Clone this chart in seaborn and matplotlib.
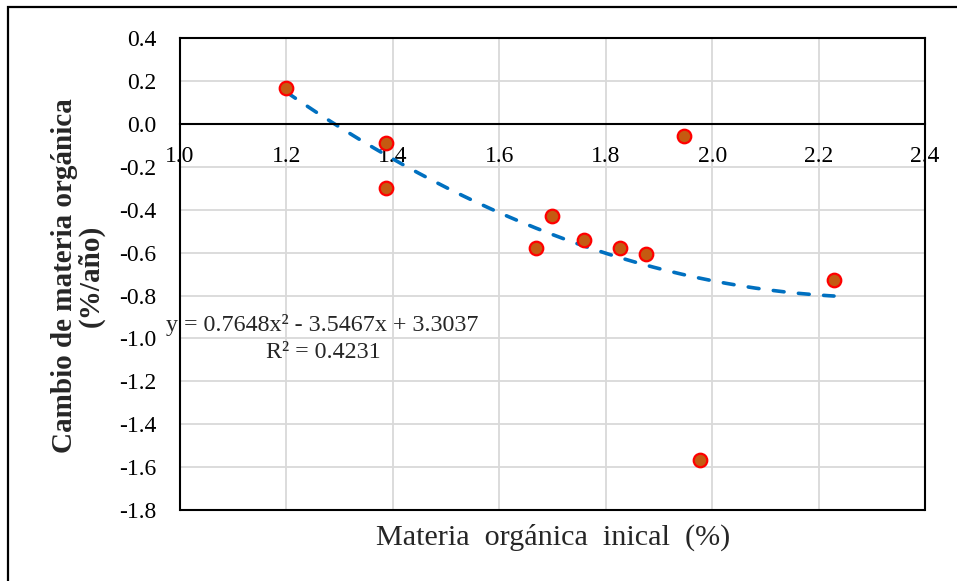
import numpy as np
import pandas as pd
import matplotlib
matplotlib.use("Agg")
import matplotlib.pyplot as plt
import seaborn as sns
from matplotlib.patches import Rectangle

# Initial organic matter (%) and its yearly change (%/año)
mo_inicial = [1.200, 1.387, 1.387, 1.669, 1.699, 1.759, 1.827, 1.875, 1.947, 1.977, 2.229]
cambio_mo = [0.170, -0.086, -0.300, -0.577, -0.429, -0.540, -0.577, -0.605, -0.058, -1.569, -0.725]

# Second-order polynomial trend (highest power first) and its R²
coef_tendencia = [0.7648, -3.5467, 3.3037]
r_cuadrado = 0.4231

x_ticks = [1.0, 1.2, 1.4, 1.6, 1.8, 2.0, 2.2, 2.4]
y_ticks = [0.4, 0.2, 0.0, -0.2, -0.4, -0.6, -0.8, -1.0, -1.2, -1.4, -1.6, -1.8]

sns.set_style("white")
plt.rcParams["font.family"] = ["Liberation Serif", "DejaVu Serif"]
plt.rcParams["axes.unicode_minus"] = False

W, H = 957, 581
fig = plt.figure(figsize=(W / 100, H / 100), dpi=100)
left, right, top, bottom = 180, 925, 38.3, 510
ax = fig.add_axes([left / W, 1 - bottom / H, (right - left) / W, (bottom - top) / H])

df = pd.DataFrame({"mo": mo_inicial, "cambio": cambio_mo})

# Trend line over the observed range
xs = np.linspace(min(mo_inicial), max(mo_inicial), 300)
ys = np.polyval(coef_tendencia, xs)
sns.lineplot(x=xs, y=ys, ax=ax, color="#0070C0", linewidth=2.6, sort=False,
             linestyle=(0, (3.0, 4.0)), dash_capstyle="round", zorder=2)

sns.scatterplot(data=df, x="mo", y="cambio", ax=ax, s=95, color="#C55A11",
                edgecolor="#FF0000", linewidth=1.6, zorder=3)

ax.set_xlim(x_ticks[0], x_ticks[-1])
ax.set_ylim(min(y_ticks), max(y_ticks))
ax.set_xticks(x_ticks, [f"{v:.1f}" for v in x_ticks])
ax.set_yticks(y_ticks, [f"{v:.1f}" for v in y_ticks])
ax.set_xlabel("")
ax.set_ylabel("")

ax.grid(True, color="#D9D9D9", linewidth=1.3)
ax.set_axisbelow(True)

# The x axis crosses at zero; frame the plot area separately
ax.spines["bottom"].set_position(("data", 0))
for sp in ax.spines.values():
    sp.set_color("black")
    sp.set_linewidth(1.5)
ax.plot([0, 1], [0, 0], transform=ax.transAxes, color="black", linewidth=1.5,
        clip_on=False, zorder=4)

ax.tick_params(axis="x", length=0, pad=16, labelsize=17, colors="black")
ax.tick_params(axis="y", length=0, pad=17, labelsize=17, colors="black")

# Trend equation
fig.text(322.5 / W, 1 - 325 / H, "y = 0.7648x² - 3.5467x + 3.3037",
         ha="center", va="center", fontsize=17.3)
fig.text(323 / W, 1 - 352 / H, f"R² = {r_cuadrado:.4f}",
         ha="center", va="center", fontsize=17.3)

fig.text(553 / W, 1 - 537 / H, "Materia  orgánica  inical  (%)",
         ha="center", va="center", fontsize=21.7)
fig.text(78 / W, 1 - 276 / H, "Cambio de materia orgánica\n(%/año)",
         rotation=90, ha="center", va="center", fontweight="bold",
         fontsize=21, multialignment="center", linespacing=1.0)

# Outer chart border
fig.patches.append(Rectangle((8 / W, -0.2), 1.2, 1.2 - 7.3 / H,
                             transform=fig.transFigure, fill=False,
                             edgecolor="black", linewidth=1.6))

fig.savefig("out.png", dpi=100)
